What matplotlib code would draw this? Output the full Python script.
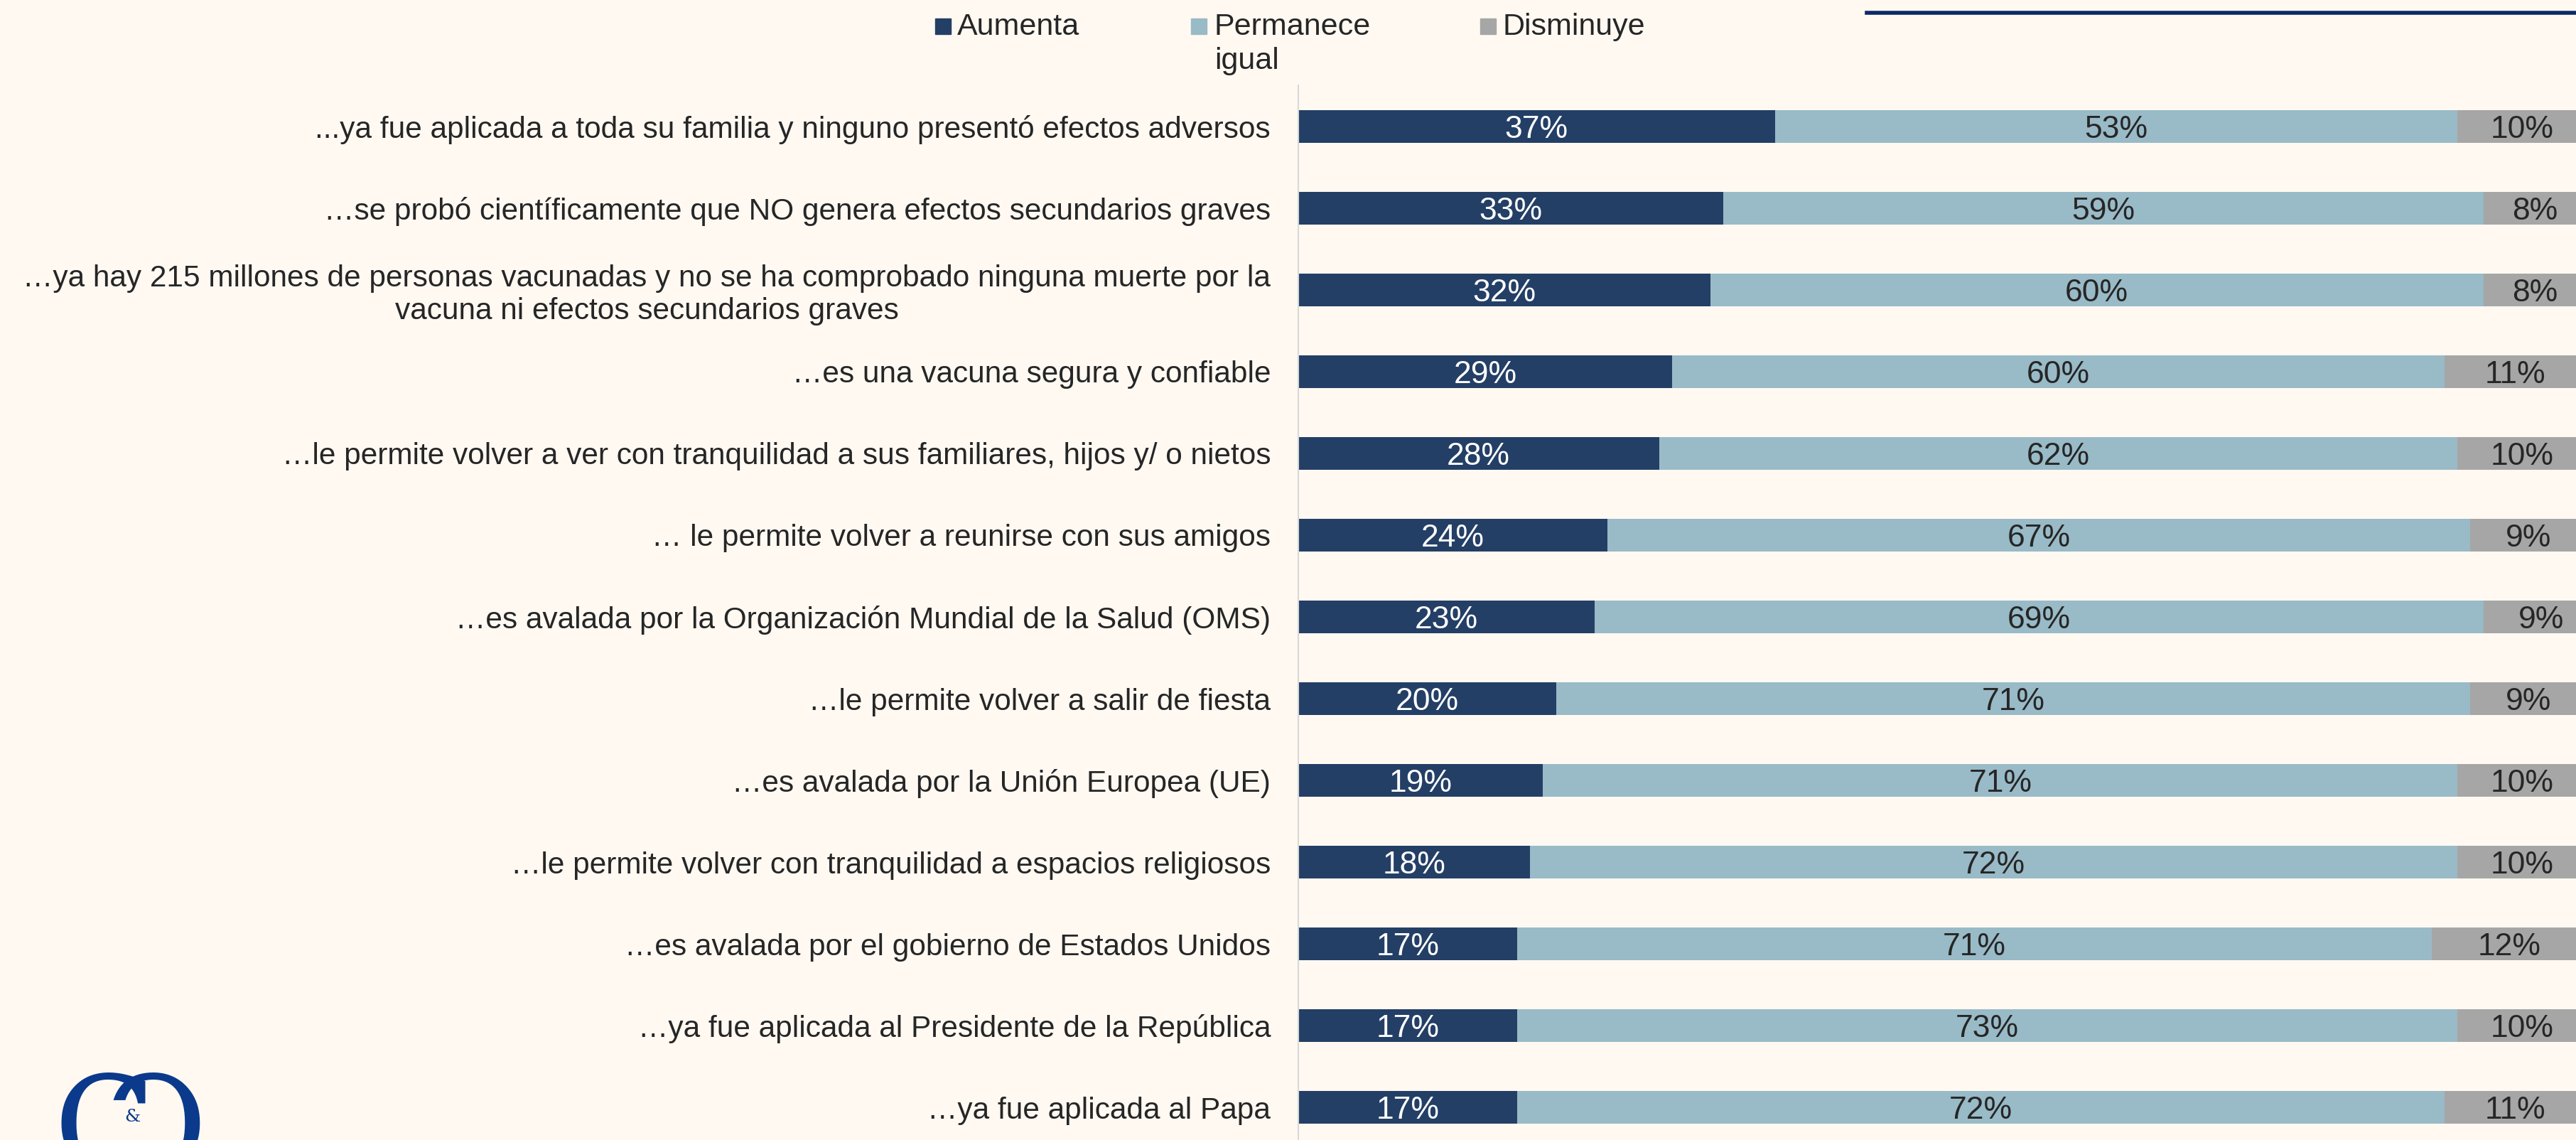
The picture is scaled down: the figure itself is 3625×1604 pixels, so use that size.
import matplotlib
matplotlib.use("Agg")
import matplotlib.pyplot as plt
from matplotlib.patches import Rectangle
from matplotlib.lines import Line2D

plt.rcParams['font.family'] = ['Liberation Sans', 'DejaVu Sans']

categories = [
    "...ya fue aplicada a toda su familia y ninguno presentó efectos adversos",
    "…se probó científicamente que NO genera efectos secundarios graves",
    "…ya hay 215 millones de personas vacunadas y no se ha comprobado ninguna muerte por la\nvacuna ni efectos secundarios graves",
    "…es una vacuna segura y confiable",
    "…le permite volver a ver con tranquilidad a sus familiares, hijos y/ o nietos",
    "… le permite volver a reunirse con sus amigos",
    "…es avalada por la Organización Mundial de la Salud (OMS)",
    "…le permite volver a salir de fiesta",
    "…es avalada por la Unión Europea (UE)",
    "…le permite volver con tranquilidad a espacios religiosos",
    "…es avalada por el gobierno de Estados Unidos",
    "…ya fue aplicada al Presidente de la República",
    "…ya fue aplicada al Papa",
]
aumenta = [37, 33, 32, 29, 28, 24, 23, 20, 19, 18, 17, 17, 17]
permanece = [53, 59, 60, 60, 62, 67, 69, 71, 71, 72, 71, 73, 72]
disminuye = [10, 8, 8, 11, 10, 9, 9, 9, 10, 10, 12, 10, 11]
series_names = ["Aumenta", "Permanece\nigual", "Disminuye"]

colors = ["#243F66", "#99BAC7", "#A6A6A6"]
txt_colors = ["white", "#262626", "#262626"]
bg = "#FFF9F2"

W, H = 3625, 1604
fig = plt.figure(figsize=(W / 100, H / 100), dpi=100, facecolor=bg)
ax = fig.add_axes([1827 / W, -12 / H, 1 - 1827 / W, (1604 - 120 + 12) / H])
ax.set_facecolor(bg)

y = list(range(len(categories)))
lefts = [0] * len(categories)
for vals, c, tc in zip([aumenta, permanece, disminuye], colors, txt_colors):
    ax.barh(y, vals, left=lefts, height=0.4, color=c, edgecolor='none')
    for yi, v, l in zip(y, vals, lefts):
        ax.text(l + v / 2, yi, f"{v}%", ha='center', va='center_baseline',
                color=tc, fontsize=32)
    lefts = [a + b for a, b in zip(lefts, vals)]

ax.set_xlim(0, 99.2)
ax.set_ylim(len(categories) - 0.5, -0.5)
ax.set_yticks(y)
ax.set_yticklabels(categories, fontsize=30.5, color="#262626", multialignment='center')
ax.tick_params(axis='y', length=0, pad=28)
ax.set_xticks([])
for s in ['top', 'right', 'bottom']:
    ax.spines[s].set_visible(False)
ax.spines['left'].set_color('#D9D9D9')
ax.spines['left'].set_linewidth(1.5)

# legend
leg_items = [(1316, 1347), (1676, 1709), (2083, 2115)]
for (mx, tx), c, name in zip(leg_items, colors, series_names):
    fig.patches.append(Rectangle((mx / W, 1 - 48 / H), 22 / W, 22 / H,
                                 transform=fig.transFigure, color=c))
    for i, line in enumerate(name.split("\n")):
        fig.text(tx / W, 1 - (49 + 48 * i) / H, line, fontsize=31, color="#262626",
                 ha='left', va='baseline')

# top decorative line
fig.add_artist(Line2D([2627 / W, 1.0], [1 - 18 / H, 1 - 18 / H],
                      transform=fig.transFigure, color="#0B2A66", linewidth=4))

# logo
logo_c = "#0B3A8C"
fig.text(76 / W, 1 - 1505 / H, "C", family='DejaVu Serif', fontsize=135,
         color=logo_c, ha='left', va='top')
fig.text(292 / W, 1 - 1505 / H, "Ɔ", family='DejaVu Serif', fontsize=135,
         color=logo_c, ha='right', va='top')
fig.text(186 / W, 1 - 1572 / H, "&", family='DejaVu Serif', fontsize=18,
         color=logo_c, ha='center', va='center')

fig.savefig("out.png", dpi=100, facecolor=bg)
